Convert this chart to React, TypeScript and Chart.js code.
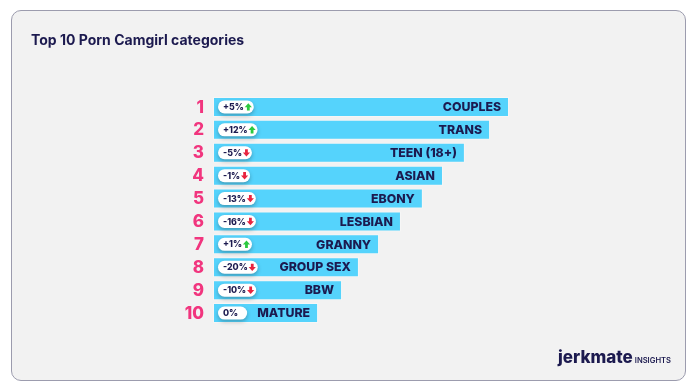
import React, { useEffect, useRef } from "react";
import { Chart, registerables } from "chart.js";

Chart.register(...registerables);

const categories = ["COUPLES", "TRANS", "TEEN (18+)", "ASIAN", "EBONY", "LESBIAN", "GRANNY", "GROUP SEX", "BBW", "MATURE"];
const scores = [100, 93.6, 85.1, 77.7, 70.9, 63.5, 56.1, 49.3, 43.6, 35.5];
const changes = [5, 12, -5, -1, -13, -16, 1, -20, -10, 0];
const ranks = ["1", "2", "3", "4", "5", "6", "7", "8", "9", "10"];
const title = "Top 10 Porn Camgirl categories";

const NAVY = "#1c1a4f";
const PINK = "#f1357e";
const BAR = "#55d3fc";
const FONT = "Inter, 'Open Sans', sans-serif";

function drawArrow(ctx: CanvasRenderingContext2D, cx: number, cy: number, up: boolean) {
  ctx.beginPath();
  if (up) {
    ctx.moveTo(cx, cy - 3.8);
    ctx.lineTo(cx + 3.6, cy + 0.2);
    ctx.lineTo(cx + 1.4, cy + 0.2);
    ctx.lineTo(cx + 1.4, cy + 3.6);
    ctx.lineTo(cx - 1.4, cy + 3.6);
    ctx.lineTo(cx - 1.4, cy + 0.2);
    ctx.lineTo(cx - 3.6, cy + 0.2);
  } else {
    ctx.moveTo(cx, cy + 3.8);
    ctx.lineTo(cx + 3.6, cy - 0.2);
    ctx.lineTo(cx + 1.4, cy - 0.2);
    ctx.lineTo(cx + 1.4, cy - 3.6);
    ctx.lineTo(cx - 1.4, cy - 3.6);
    ctx.lineTo(cx - 1.4, cy - 0.2);
    ctx.lineTo(cx - 3.6, cy - 0.2);
  }
  ctx.closePath();
  ctx.fillStyle = up ? "#2bc93f" : "#e8243f";
  ctx.fill();
}

const overlay = {
  id: "overlay",
  afterDatasetsDraw(chart: any) {
    const ctx: CanvasRenderingContext2D = chart.ctx;
    const meta = chart.getDatasetMeta(0);
    ctx.save();
    // title
    ctx.fillStyle = NAVY;
    ctx.font = `700 14px ${FONT}`;
    ctx.textAlign = "left";
    ctx.textBaseline = "alphabetic";
    ctx.fillText(title, 31, 44.5);

    meta.data.forEach((bar: any, i: number) => {
      const y = bar.y;
      const base = bar.base;
      const end = bar.x;
      // rank
      ctx.fillStyle = PINK;
      ctx.font = `800 17px ${FONT}`;
      ctx.textAlign = "right";
      ctx.textBaseline = "middle";
      ctx.fillText(ranks[i], base - 9, y + 0.5);
      // category label
      ctx.fillStyle = NAVY;
      ctx.font = `800 12.3px ${FONT}`;
      ctx.fillText(categories[i], end - 8, y + 0.5);
      // badge
      const c = changes[i];
      const txt = (c > 0 ? "+" : "") + c + "%";
      ctx.font = `800 8.8px ${FONT}`;
      const tw = ctx.measureText(txt).width;
      const hasArrow = c !== 0;
      const w = 5 + tw + (hasArrow ? 10 : 9);
      const h = 13;
      const x0 = base + 5;
      const y0 = y - h / 2;
      ctx.save();
      ctx.shadowColor = "rgba(0,0,0,0.28)";
      ctx.shadowBlur = 4;
      ctx.shadowOffsetY = 2;
      ctx.beginPath();
      ctx.roundRect(x0, y0, w, h, h / 2);
      ctx.fillStyle = "#ffffff";
      ctx.fill();
      ctx.restore();
      ctx.fillStyle = NAVY;
      ctx.textAlign = "left";
      ctx.textBaseline = "middle";
      ctx.fillText(txt, x0 + 5, y + 0.5);
      if (hasArrow) drawArrow(ctx, x0 + 5 + tw + 4.5, y, c > 0);
    });

    // logo
    ctx.fillStyle = NAVY;
    ctx.textAlign = "left";
    ctx.textBaseline = "alphabetic";
    ctx.font = `800 17px ${FONT}`;
    ctx.fillText("jerkmate", 558, 363);
    const lw = ctx.measureText("jerkmate").width;
    ctx.font = `600 7.6px ${FONT}`;
    ctx.fillText("INSIGHTS", 558 + lw + 2, 363);
    ctx.restore();
  },
};

export default function App() {
  const ref = useRef<HTMLCanvasElement | null>(null);
  useEffect(() => {
    document.body.style.margin = "0";
    const chart = new Chart(ref.current as HTMLCanvasElement, {
      type: "bar",
      data: {
        labels: categories,
        datasets: [
          {
            data: scores,
            backgroundColor: BAR,
            borderColor: "rgba(255,255,255,0.35)",
            borderWidth: 1,
            borderSkipped: false,
            barPercentage: 0.875,
            categoryPercentage: 1,
          },
        ],
      },
      options: {
        indexAxis: "y",
        animation: false,
        responsive: false,
        layout: { padding: { left: 213, right: 187, top: 95.5, bottom: 67.5 } },
        plugins: { legend: { display: false }, tooltip: { enabled: false }, title: { display: false } },
        scales: {
          x: { display: false, min: 0, max: 100 },
          y: { display: false },
        },
      },
      plugins: [overlay],
    });
    return () => chart.destroy();
  }, []);
  return (
    <div style={{ position: "relative", width: 696, height: 392, background: "#ffffff", overflow: "hidden" }}>
      <div
        style={{
          position: "absolute",
          left: 11,
          top: 10,
          width: 673,
          height: 369,
          border: "1px solid #9c9cae",
          borderRadius: 10,
          background: "#f2f2f2",
        }}
      />
      <canvas ref={ref} width={696} height={392} style={{ position: "absolute", left: 0, top: 0 }} />
    </div>
  );
}
